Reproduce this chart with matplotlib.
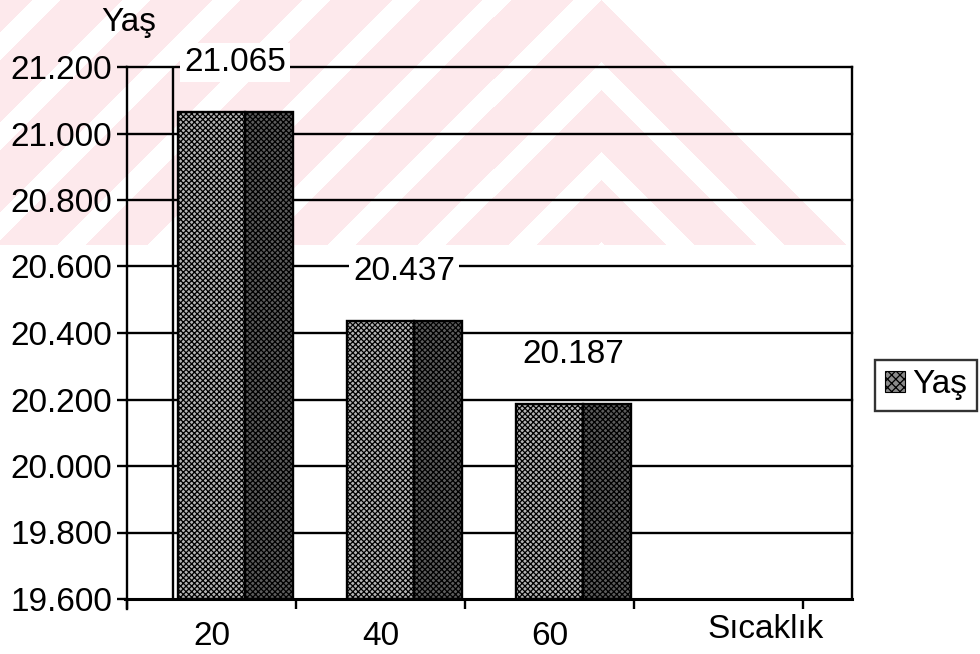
import numpy as np
import matplotlib.pyplot as plt
from matplotlib.patches import Patch

plt.rcParams['font.family'] = ['Liberation Sans', 'DejaVu Sans']
plt.rcParams['hatch.linewidth'] = 0.9

# Sıcaklık (°C) gruplarına göre ortalama yaş
sicaklik = ["20", "40", "60"]
yas = [21.065, 20.437, 20.187]
y_ticks = [19.6, 19.8, 20.0, 20.2, 20.4, 20.6, 20.8, 21.0, 21.2]
y_min, y_max = 19.6, 21.2
x_title = "Sıcaklık"
y_title = "Yaş"

W, H = 980, 654
FS = 24


def px_box(l, t, r, b):
    # piksel (sol, üst, sağ, alt) -> figür kesri
    return [l / W, 1 - b / H, (r - l) / W, (b - t) / H]


fig = plt.figure(figsize=(W / 100, H / 100), dpi=100)

# arka plandaki soluk pembe filigran
bg = fig.add_axes([0, 0, 1, 1], zorder=-5)
yy, xx = np.mgrid[0:H, 0:W]
s = yy - np.abs(xx - 600)
mask = (np.mod(s, 90) < 62) & (yy < 245) & (yy > xx - 625)
img = np.ones((H, W, 3))
img[mask] = np.array([253, 233, 236]) / 255
bg.imshow(img, interpolation='nearest', aspect='auto')
bg.axis('off')

ax = fig.add_axes(px_box(127, 67, 803, 599))
ax.set_facecolor('none')
ax.set_xlim(0, 4)
ax.set_ylim(y_min, y_max)
for sp in ax.spines.values():
    sp.set_visible(False)

lw = 1.7
wall_l = 0.27   # yan duvarın arka kenarı
wall_r = 4.29   # arka duvarın sağ kenarı

# kılavuz çizgileri ve arka duvar
for t in y_ticks[1:]:
    ax.plot([0, wall_l, wall_r], [t, t, t], color='black', lw=lw,
            clip_on=False, zorder=1)
ax.plot([wall_l, wall_l], [y_min, y_max], color='black', lw=lw, zorder=1)
ax.plot([wall_r, wall_r], [y_min, y_max], color='black', lw=lw,
        clip_on=False, zorder=1)
ax.plot([-0.01, wall_r], [y_min, y_min], color='black', lw=lw * 1.3,
        clip_on=False, zorder=4)
ax.plot([0, 0], [y_min - 0.03, y_max], color='black', lw=lw,
        clip_on=False, zorder=4)

# sütunlar: açık ön yüz + koyu yan yüz
x = np.arange(len(yas))
heights = np.array(yas) - y_min
ax.bar(x + 0.30, heights, bottom=y_min, width=0.40, align='edge',
       facecolor='#b4b4b4', edgecolor='black', hatch='xxxxxx', lw=lw,
       zorder=3)
ax.bar(x + 0.70, heights, bottom=y_min, width=0.28, align='edge',
       facecolor='#5c5c5c', edgecolor='black', hatch='xxxxxx', lw=lw,
       zorder=3)

for i, v in enumerate(yas):
    ax.annotate(f"{v:.3f}", xy=(i + 0.64, v), xytext=(0, 49 * 0.72),
                textcoords='offset points', ha='center', va='center',
                fontsize=FS, zorder=6,
                bbox=dict(boxstyle='square,pad=0.12', fc='white', ec='none'))

# eksenler
ax.set_yticks(y_ticks)
ax.set_yticklabels([f"{t:.3f}" for t in y_ticks])
ax.tick_params(axis='y', direction='out', length=7, width=lw, pad=3.5,
               labelsize=FS)
ax.set_xticks(x + 0.5)
ax.set_xticklabels(sicaklik)
ax.set_xticks(np.arange(5), minor=True)
ax.tick_params(axis='x', which='major', length=0, pad=16, labelsize=FS)
ax.tick_params(axis='x', which='minor', direction='out', length=7,
               width=lw)

ax.annotate(x_title, xy=(3.78, y_min), xytext=(0, -30 * 0.72),
            textcoords='offset points', ha='center', va='center',
            fontsize=FS, annotation_clip=False)
fig.text(129 / W, 1 - 31 / H, y_title, ha='center', va='baseline',
         fontsize=FS)

leg = fig.legend(handles=[Patch(facecolor='#8a8a8a', edgecolor='black',
                                hatch='xxxx', lw=0.8, label=y_title)],
                 loc='center left', bbox_to_anchor=(875 / W, 1 - 385 / H),
                 fontsize=FS, frameon=True, fancybox=False,
                 handlelength=0.6, handleheight=0.6, handletextpad=0.22,
                 borderpad=0.3, borderaxespad=0)
leg.get_frame().set_edgecolor('black')
leg.get_frame().set_linewidth(lw)

fig.savefig("out.png", dpi=100)
